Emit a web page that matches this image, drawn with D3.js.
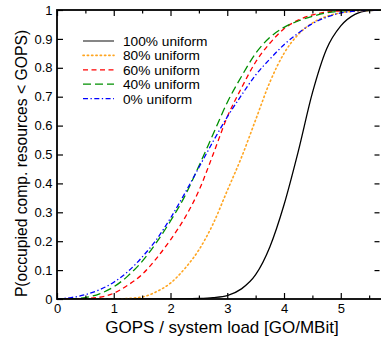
<!DOCTYPE html>
<html>
<head>
<meta charset="utf-8">
<script src="https://cdn.jsdelivr.net/npm/d3@7"></script>
<style>
  html, body { margin: 0; padding: 0; background: #fff; }
  svg { display: block; font-family: "Liberation Sans", Arial, sans-serif; }
</style>
</head>
<body>
<div id="chart"></div>
<script>
  // ---- data ----
  const seriesNames = ["100% uniform", "80% uniform", "60% uniform", "40% uniform", "0% uniform"];

  const uniform100 = [[0,0],[2.0,0],[2.5,0.002],[2.75,0.005],[3.0,0.012],[3.25,0.035],[3.5,0.084],[3.75,0.18],
    [4.0,0.326],[4.25,0.51],[4.5,0.713],[4.75,0.865],[5.0,0.945],[5.25,0.985],[5.5,0.998],[5.7,1]];
  const uniform80 = [[0,0],[1.0,0],[1.25,0.002],[1.5,0.007],[1.75,0.025],[2.0,0.055],[2.25,0.105],[2.5,0.17],
    [2.75,0.26],[3.0,0.375],[3.25,0.49],[3.5,0.62],[3.75,0.75],[4.0,0.85],[4.25,0.915],[4.5,0.955],
    [4.75,0.978],[5.0,0.99],[5.25,0.996],[5.5,0.999],[5.7,1]];
  const uniform60 = [[0,0],[0.25,0],[0.5,0.002],[0.75,0.006],[1.0,0.02],[1.25,0.048],[1.5,0.085],[1.75,0.14],
    [2.0,0.205],[2.25,0.28],[2.5,0.375],[2.75,0.5],[3.0,0.63],[3.25,0.73],[3.5,0.82],[3.75,0.885],
    [4.0,0.935],[4.25,0.965],[4.5,0.983],[4.75,0.993],[5.0,0.997],[5.25,0.999],[5.5,1],[5.7,1]];
  const uniform40 = [[0,0],[0.25,0.001],[0.5,0.005],[0.75,0.018],[1.0,0.042],[1.25,0.08],[1.5,0.13],[1.75,0.195],
    [2.0,0.27],[2.25,0.355],[2.5,0.46],[2.75,0.57],[3.0,0.68],[3.25,0.77],[3.5,0.85],[3.75,0.905],
    [4.0,0.94],[4.25,0.962],[4.5,0.978],[4.75,0.99],[5.0,0.996],[5.25,0.999],[5.5,1],[5.7,1]];
  const uniform0 = [[0,0],[0.25,0.005],[0.5,0.015],[0.75,0.032],[1.0,0.058],[1.25,0.095],[1.5,0.145],[1.75,0.205],
    [2.0,0.28],[2.25,0.365],[2.5,0.455],[2.75,0.545],[3.0,0.63],[3.25,0.705],[3.5,0.775],[3.75,0.83],
    [4.0,0.88],[4.25,0.92],[4.5,0.953],[4.75,0.975],[5.0,0.99],[5.25,0.996],[5.5,0.999],[5.7,1]];

  const xTicks = [0, 1, 2, 3, 4, 5];
  const xMinorTicks = [0.5, 1.5, 2.5, 3.5, 4.5, 5.5];
  const yTicks = [0, 0.1, 0.2, 0.3, 0.4, 0.5, 0.6, 0.7, 0.8, 0.9, 1];

  const allSeries = [uniform100, uniform80, uniform60, uniform40, uniform0];
  const styles = [
    {color: "#000000", dash: null},
    {color: "#ffa520", dash: "1.3,3"},
    {color: "#ff0000", dash: "5,3.5"},
    {color: "#009000", dash: "8,4"},
    {color: "#0000ff", dash: "5,2.5,1.3,2.5"}
  ];

  /*============= layout ===============*/
  const W = 381, H = 339;
  const margin = {left: 57, top: 10, right: 0.5, bottom: 40};

  const svg = d3.select("#chart").append("svg").attr("width", W).attr("height", H);

  const x = d3.scaleLinear().domain([0, 5.7]).range([margin.left, W - margin.right]);
  const y = d3.scaleLinear().domain([0, 1]).range([H - margin.bottom, margin.top]);

  svg.append("clipPath").attr("id", "clip")
    .append("rect")
    .attr("x", x(0)).attr("y", y(1))
    .attr("width", x(5.7) - x(0)).attr("height", y(0) - y(1));

  // curves
  const line = d3.line()
    .x(d => x(d[0]))
    .y(d => y(d[1]))
    .curve(d3.curveMonotoneX);

  svg.append("g").attr("clip-path", "url(#clip)")
    .selectAll("path")
    .data(allSeries)
    .join("path")
    .attr("d", line)
    .attr("fill", "none")
    .attr("stroke", (d, i) => styles[i].color)
    .attr("stroke-width", (d, i) => i === 1 ? 1.6 : 1.3)
    .attr("stroke-linecap", (d, i) => i === 1 ? "round" : "butt")
    .attr("stroke-dasharray", (d, i) => styles[i].dash);

  // axes: ticks pointing inward, mirrored on top/right
  const fmtY = d => d === 0 || d === 1 ? d3.format("d")(d) : d3.format(".1f")(d);

  const axisStyle = g => {
    g.select(".domain").remove();
    g.selectAll(".tick line").attr("stroke", "#000").attr("stroke-width", 1.2);
    g.selectAll(".tick text").attr("fill", "#000").attr("font-size", 13);
  };

  svg.append("g")
    .attr("transform", `translate(0,${y(0)})`)
    .call(d3.axisBottom(x).tickValues(xTicks).tickSize(-6).tickPadding(5).tickFormat(d3.format("d")))
    .call(axisStyle);
  svg.append("g")
    .attr("transform", `translate(0,${y(0)})`)
    .call(d3.axisBottom(x).tickValues(xMinorTicks).tickSize(-3.5).tickFormat(""))
    .call(axisStyle);
  svg.append("g")
    .attr("transform", `translate(0,${y(1)})`)
    .call(d3.axisTop(x).tickValues(xTicks).tickSize(-6).tickFormat(""))
    .call(axisStyle);
  svg.append("g")
    .attr("transform", `translate(0,${y(1)})`)
    .call(d3.axisTop(x).tickValues(xMinorTicks).tickSize(-3.5).tickFormat(""))
    .call(axisStyle);

  svg.append("g")
    .attr("transform", `translate(${x(0)},0)`)
    .call(d3.axisLeft(y).tickValues(yTicks).tickSize(-6).tickPadding(4.5).tickFormat(fmtY))
    .call(axisStyle);
  svg.append("g")
    .attr("transform", `translate(${x(5.7) - 1},0)`)
    .call(d3.axisRight(y).tickValues(yTicks.slice(1, -1)).tickSize(-5).tickFormat(""))
    .call(axisStyle);

  // frame
  svg.append("rect")
    .attr("x", x(0)).attr("y", y(1))
    .attr("width", x(5.7) - x(0) + 2).attr("height", y(0) - y(1))
    .attr("fill", "none").attr("stroke", "#000").attr("stroke-width", 1.8);

  // axis titles
  svg.append("text")
    .attr("x", 222).attr("y", 333)
    .attr("text-anchor", "middle")
    .attr("font-size", 17)
    .text("GOPS / system load [GO/MBit]");

  svg.append("text")
    .attr("transform", "translate(27,163.5) rotate(-90)")
    .attr("text-anchor", "middle")
    .attr("font-size", 15.7)
    .text("P(occupied comp. resources < GOPS)");

  // legend
  const legend = svg.append("g").attr("transform", "translate(83,41)");
  const rows = legend.selectAll("g")
    .data(seriesNames)
    .join("g")
    .attr("transform", (d, i) => `translate(0,${i * 14.4})`);
  rows.append("line")
    .attr("x1", 0).attr("x2", 31).attr("y1", 0).attr("y2", 0)
    .attr("stroke", (d, i) => i === 0 ? "#444" : styles[i].color)
    .attr("stroke-width", (d, i) => i === 1 ? 1.6 : 1.3)
    .attr("stroke-linecap", (d, i) => i === 1 ? "round" : "butt")
    .attr("stroke-dasharray", (d, i) => styles[i].dash);
  rows.append("text")
    .attr("x", 40).attr("y", 5)
    .attr("font-size", 13.7)
    .attr("fill", "#000")
    .text(d => d);
</script>
</body>
</html>
